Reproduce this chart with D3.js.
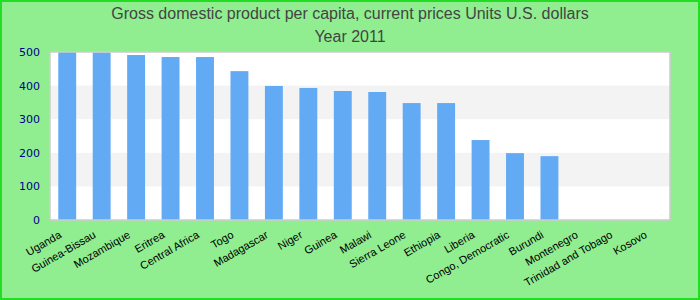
<!DOCTYPE html>
<html>
<head>
<meta charset="utf-8">
<script src="https://cdn.jsdelivr.net/npm/d3@7"></script>
<style>
  body { margin: 0; }
  svg { display: block; }
</style>
</head>
<body>
<div id="chart"></div>
<script>
var svgWidth = 700;
var svgHeight = 300;

var countries = ["Uganda", "Guinea-Bissau", "Mozambique", "Eritrea", "Central Africa", "Togo",
  "Madagascar", "Niger", "Guinea", "Malawi", "Sierra Leone", "Ethiopia", "Liberia",
  "Congo, Democratic", "Burundi", "Montenegro", "Trinidad and Tobago", "Kosovo"];
var gdp = [500, 499, 491, 485, 485, 443, 399, 393, 384, 381, 348, 348, 238, 199, 190, null, null, null];
var yTicks = [0, 100, 200, 300, 400, 500];
var titleLines = ["Gross domestic product per capita, current prices Units U.S. dollars", "Year 2011"];

var margin = { top: 52, right: 30, bottom: 80, left: 50 };
var width = svgWidth - margin.left - margin.right;
var height = svgHeight - margin.top - margin.bottom;

var svg = d3.select("#chart")
  .append("svg")
  .attr("width", svgWidth)
  .attr("height", svgHeight);

// background + border
svg.append("rect")
  .attr("x", 1)
  .attr("y", 1)
  .attr("width", svgWidth - 2)
  .attr("height", svgHeight - 2)
  .attr("fill", "#90ee90")
  .attr("stroke", "#22dd22")
  .attr("stroke-width", 2);

// title
svg.selectAll(".title")
  .data(titleLines)
  .enter()
  .append("text")
  .attr("class", "title")
  .attr("x", svgWidth / 2)
  .attr("y", (d, i) => 19 + i * 23)
  .attr("text-anchor", "middle")
  .style("font-family", "'Liberation Sans', Arial, sans-serif")
  .style("font-size", "16px")
  .attr("fill", "#444")
  .text(d => d);

var chartGroup = svg.append("g")
  .attr("transform", `translate(${margin.left}, ${margin.top})`);

var xScale = d3.scaleBand()
  .domain(countries)
  .range([0, width])
  .paddingInner(0.48)
  .paddingOuter(0.24);

var yScale = d3.scaleLinear()
  .domain([0, 500])
  .range([height, 0]);

// plot background
chartGroup.append("rect")
  .attr("width", width)
  .attr("height", height)
  .attr("fill", "#fff");

// alternating bands
var bands = d3.pairs(yTicks).filter((p, i) => i % 2 === 1);
chartGroup.selectAll(".band")
  .data(bands)
  .enter()
  .append("rect")
  .attr("class", "band")
  .attr("x", 0)
  .attr("width", width)
  .attr("y", d => yScale(d[1]))
  .attr("height", d => yScale(d[0]) - yScale(d[1]))
  .attr("fill", "#f3f3f3");

// bars
chartGroup.selectAll(".bar")
  .data(countries.map((c, i) => ({ country: c, value: gdp[i] })).filter(d => d.value !== null))
  .enter()
  .append("rect")
  .attr("class", "bar")
  .attr("x", d => xScale(d.country))
  .attr("width", xScale.bandwidth())
  .attr("y", d => yScale(d.value))
  .attr("height", d => height - yScale(d.value))
  .attr("fill", "#63aaf5");

// plot border
chartGroup.append("rect")
  .attr("width", width)
  .attr("height", height)
  .attr("fill", "none")
  .attr("stroke", "#ccc")
  .attr("stroke-width", 1.5);

// y axis
var leftAxis = d3.axisLeft(yScale)
  .tickValues(yTicks)
  .tickSize(0)
  .tickPadding(10);

var yAxis = chartGroup.append("g").call(leftAxis);
yAxis.select(".domain").remove();
yAxis.selectAll("text")
  .style("font-family", "'DejaVu Sans', sans-serif")
  .style("font-size", "11px")
  .attr("fill", "#00008b");

// x axis
var bottomAxis = d3.axisBottom(xScale)
  .tickSize(0)
  .tickPadding(0);

var xAxis = chartGroup.append("g")
  .attr("transform", `translate(0, ${height})`)
  .call(bottomAxis);
xAxis.select(".domain").remove();
xAxis.selectAll("text")
  .style("font-family", "'Liberation Sans', Arial, sans-serif")
  .style("font-size", "11px")
  .attr("fill", "#000")
  .attr("text-anchor", "end")
  .attr("dy", null)
  .attr("y", 0)
  .attr("transform", "translate(-5, 17) rotate(-30)");
</script>
</body>
</html>
